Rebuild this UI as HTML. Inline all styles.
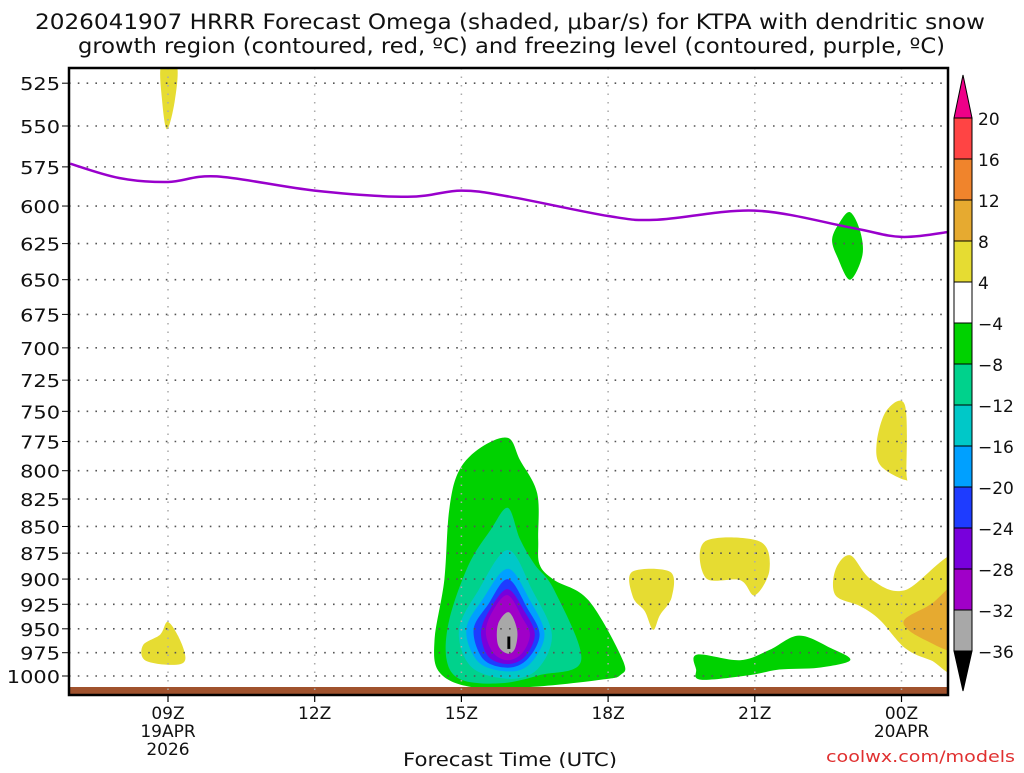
<!DOCTYPE html>
<html><head><meta charset="utf-8">
<style>
html,body{margin:0;padding:0;background:#fff;}
svg text{font-family:"DejaVu Sans","Liberation Sans",sans-serif;fill:#111;}
</style></head>
<body>
<svg id="chart" width="1024" height="768" viewBox="0 0 1024 768" xmlns="http://www.w3.org/2000/svg">
<g>
<text x="35" y="29" font-size="21" textLength="950" lengthAdjust="spacingAndGlyphs">2026041907 HRRR Forecast Omega (shaded, μbar/s) for KTPA with dendritic snow</text>
<text x="78" y="53" font-size="21" textLength="867" lengthAdjust="spacingAndGlyphs">growth region (contoured, red, ºC) and freezing level (contoured, purple, ºC)</text>
</g>
<g id="shading"></g>
<rect x="69" y="687" width="879" height="7" fill="#a0522d"/>
<g id="grid"></g>
<g id="fz"></g>
<rect x="69" y="68" width="879" height="627" fill="none" stroke="#000" stroke-width="2.5"/>
<g id="yaxis"></g>
<g id="xaxis"></g>
<text x="403" y="766" font-size="19" textLength="214" lengthAdjust="spacingAndGlyphs">Forecast Time (UTC)</text>
<text x="826" y="762" font-size="16" textLength="189" lengthAdjust="spacingAndGlyphs" style="fill:#e03030">coolwx.com/models</text>
<g id="cbar"></g>
</svg>
<script>
const pressureTicks=[525,550,575,600,625,650,675,700,725,750,775,800,825,850,875,900,925,950,975,1000];
const timeTicks=[9,12,15,18,21,24];
const timeLabels=["09Z","12Z","15Z","18Z","21Z","00Z"];
const dateLabels={9:["19APR","2026"],24:["20APR"]};
const fzHours=[7,8,9,10,12,13.9,15,16,18,19,21,23,24,25];
const fzPressure=[573,582,584.5,581,590,594,590,594,606.5,609,603,614.5,620.5,617];
const cbLevels=["20","16","12","8","4","−4","−8","−12","−16","−20","−24","−28","−32","−36"];
const cbColors=["#ff4444","#f0842c","#e6aa30","#e6dc32","#ffffff","#00d200","#00d28c","#00c8c8","#00a0ff","#1e3cff","#7800dc","#a000c8","#a8a8a8"];
const shadeColors={y:"#e6dc32",o:"#e6aa30",g:"#00d200",t:"#00d28c",c:"#00c8c8",b:"#00a0ff",d:"#1e3cff",p:"#7800dc",m:"#a000c8",s:"#a8a8a8",k:"#000000"};
const regionTopYellow=[[8.86,515],[9.18,515],[9.14,535],[8.98,552],[8.88,535]];
const regionYellow09=[[8.49,967],[8.84,956],[9.0,943],[9.25,962],[9.35,983],[9.08,988],[8.53,983]];
const regionYellow19=[[18.49,893],[19.27,893],[19.3,918],[19.06,936],[18.92,951],[18.75,932],[18.51,918]];
const regionYellow21=[[19.98,864],[21.1,864],[21.3,891],[21.0,916],[20.7,901],[20.0,899]];
const regionGreen21=[[19.82,977],[20.7,983],[21.3,972],[21.9,957],[22.55,970],[22.95,983],[22.3,991],[21.5,993],[20.9,999],[19.9,1004],[19.8,993]];
const regionGreen23=[[22.95,604],[23.15,616],[23.2,633],[22.95,650],[22.7,635],[22.58,622],[22.75,610]];
const regionYellow00=[[23.7,749],[24.07,745],[24.1,800],[24.07,808],[23.56,795],[23.5,774]];
const regionYellowRight=[[22.65,891],[22.95,877],[23.37,900],[24.07,911],[25.2,878],[25.2,992],[24.6,983],[24.07,970],[23.56,941],[23.16,927],[22.65,916]];
const regionOrangeRight=[[25.2,905],[24.6,925],[24.04,943],[24.5,962],[25.2,970]];
const regionGreenMain=[[15.95,772],[16.2,791],[16.55,820],[16.57,862],[16.6,886],[16.9,901],[17.6,921],[18.3,983],[18.25,999],[17.85,1004],[16.4,1012],[15.2,1012],[14.55,996],[14.45,962],[14.65,901],[14.75,835],[14.95,800],[15.4,780]];
const regionTeal=[[15.95,833],[16.2,862],[16.5,886],[16.9,911],[17.45,983],[16.6,999],[15.8,1008],[15.0,1004],[14.7,983],[14.75,941],[15.15,886],[15.6,853]];
const regionCyan=[[15.95,872],[16.45,911],[16.85,956],[16.55,993],[15.95,1003],[15.2,990],[14.95,951],[15.35,911]];
const regionBlue=[[15.95,890],[16.4,921],[16.7,956],[16.4,987],[15.95,995],[15.35,985],[15.1,951],[15.45,919]];
const regionDarkBlue=[[15.95,900],[16.35,929],[16.6,956],[16.35,982],[15.95,991],[15.45,982],[15.25,951],[15.55,925]];
const regionPurple=[[15.95,910],[16.3,933],[16.5,956],[16.3,979],[15.95,987],[15.55,979],[15.4,953],[15.6,929]];
const regionMagenta=[[15.95,916],[16.25,939],[16.4,956],[16.25,975],[15.95,983],[15.65,975],[15.5,953],[15.65,931]];
const regionGray=[[15.97,933],[16.14,951],[16.1,970],[15.95,976],[15.75,967],[15.75,945]];
const regionBlack=[[15.94,958],[16.0,958],[16.0,971],[15.94,971]];
const regions=[["y",regionTopYellow],["y",regionYellow09],["y",regionYellow19],["y",regionYellow21],["g",regionGreen21],["g",regionGreen23],["y",regionYellow00],["y",regionYellowRight],["o",regionOrangeRight],["g",regionGreenMain],["t",regionTeal],["c",regionCyan],["b",regionBlue],["d",regionDarkBlue],["p",regionPurple],["m",regionMagenta],["s",regionGray],["k",regionBlack]];

const NS="http://www.w3.org/2000/svg";
const X0=69,X1=948,Y0=68,Y1=695;
function xs(h){return 168+(h-9)*48.9;}
function ys(p){return 676-920*Math.log(1000/p);}
function mk(tag,attrs,parent){const e=document.createElementNS(NS,tag);for(const k in attrs)e.setAttribute(k,attrs[k]);parent.appendChild(e);return e;}
function smooth(pts,closed){
  const n=pts.length;let d="M"+pts[0][0].toFixed(1)+","+pts[0][1].toFixed(1);
  const m=closed?n:n-1;
  for(let i=0;i<m;i++){
    const p0=pts[(i-1+n)%n],p1=pts[i],p2=pts[(i+1)%n],p3=pts[(i+2)%n];
    const a=closed||i>0?p0:p1, b=closed||i+2<n?p3:p2;
    const c1=[p1[0]+(p2[0]-a[0])/6,p1[1]+(p2[1]-a[1])/6],c2=[p2[0]-(b[0]-p1[0])/6,p2[1]-(b[1]-p1[1])/6];
    d+="C"+c1[0].toFixed(1)+","+c1[1].toFixed(1)+" "+c2[0].toFixed(1)+","+c2[1].toFixed(1)+" "+p2[0].toFixed(1)+","+p2[1].toFixed(1);
  }
  return d+(closed?"Z":"");
}
const svg=document.getElementById("chart");
const defs=mk("defs",{},svg);
const cp=mk("clipPath",{id:"plotclip"},defs);
mk("rect",{x:X0,y:Y0,width:X1-X0,height:687-Y0},cp);
const shade=document.getElementById("shading");
shade.setAttribute("clip-path","url(#plotclip)");
regions.forEach(([c,pts],i)=>{
  const px=pts.map(q=>[xs(q[0]),ys(q[1])]);
  const el=mk("path",{d:c==="k"?"M"+px.map(q=>q.join(",")).join("L")+"Z":smooth(px,true),fill:shadeColors[c]},shade);
  
  
});
const grid=document.getElementById("grid");
pressureTicks.forEach(p=>{
  const l=mk("line",{x1:X0,x2:X1,y1:ys(p),y2:ys(p),stroke:"#555","stroke-width":1.6,"stroke-dasharray":"1.6 7.2"},grid);
  
  
});
timeTicks.forEach(h=>{
  const l=mk("line",{x1:xs(h),x2:xs(h),y1:Y0,y2:Y1,stroke:"#aaa","stroke-width":1.5,"stroke-dasharray":"1.5 7"},grid);
  
  
});
const fz=document.getElementById("fz");
fz.setAttribute("clip-path","url(#plotclip)");
const fzl=mk("path",{d:smooth(fzHours.map((h,i)=>[xs(h),ys(fzPressure[i])]),false),fill:"none",stroke:"#9900cc","stroke-width":2.5},fz);


const ya=document.getElementById("yaxis");
pressureTicks.forEach(p=>{
  mk("line",{x1:62,x2:69,y1:ys(p),y2:ys(p),stroke:"#000","stroke-width":1},ya);
  const s=String(p);
  const t=mk("text",{x:60,y:ys(p)+7,"font-size":18,"text-anchor":"end",textLength:s.length*13.3,lengthAdjust:"spacingAndGlyphs"},ya);
  t.textContent=s;
  
  
});
const xa=document.getElementById("xaxis");
timeTicks.forEach((h,i)=>{
  mk("line",{x1:xs(h),x2:xs(h),y1:695,y2:702,stroke:"#000","stroke-width":1.2},xa);
  const lines=[timeLabels[i]].concat(dateLabels[h]||[]);
  lines.forEach((s,j)=>{
    const t=mk("text",{x:xs(h),y:719+j*18,"font-size":17,"text-anchor":"middle"},xa);
    t.textContent=s;
    
    
  });
});
const cb=document.getElementById("cbar");
const cbx=954,cbw=18,cbTop=118,cbh=41;
mk("path",{d:`M${cbx},${cbTop}L${cbx+cbw/2},75L${cbx+cbw},${cbTop}Z`,fill:"#ee0088",stroke:"#000","stroke-width":1},cb);
cbColors.forEach((c,i)=>{
  const r=mk("rect",{x:cbx,y:cbTop+i*cbh,width:cbw,height:cbh,fill:c,stroke:"#000","stroke-width":1},cb);
  
  
});
const cbBot=cbTop+cbColors.length*cbh;
mk("path",{d:`M${cbx},${cbBot}L${cbx+cbw/2},691L${cbx+cbw},${cbBot}Z`,fill:"#000",stroke:"#000","stroke-width":1},cb);
cbLevels.forEach((s,i)=>{
  const t=mk("text",{x:978,y:cbTop+i*cbh+7,"font-size":17},cb);
  t.textContent=s;
  
  
});
</script>
</body></html>
